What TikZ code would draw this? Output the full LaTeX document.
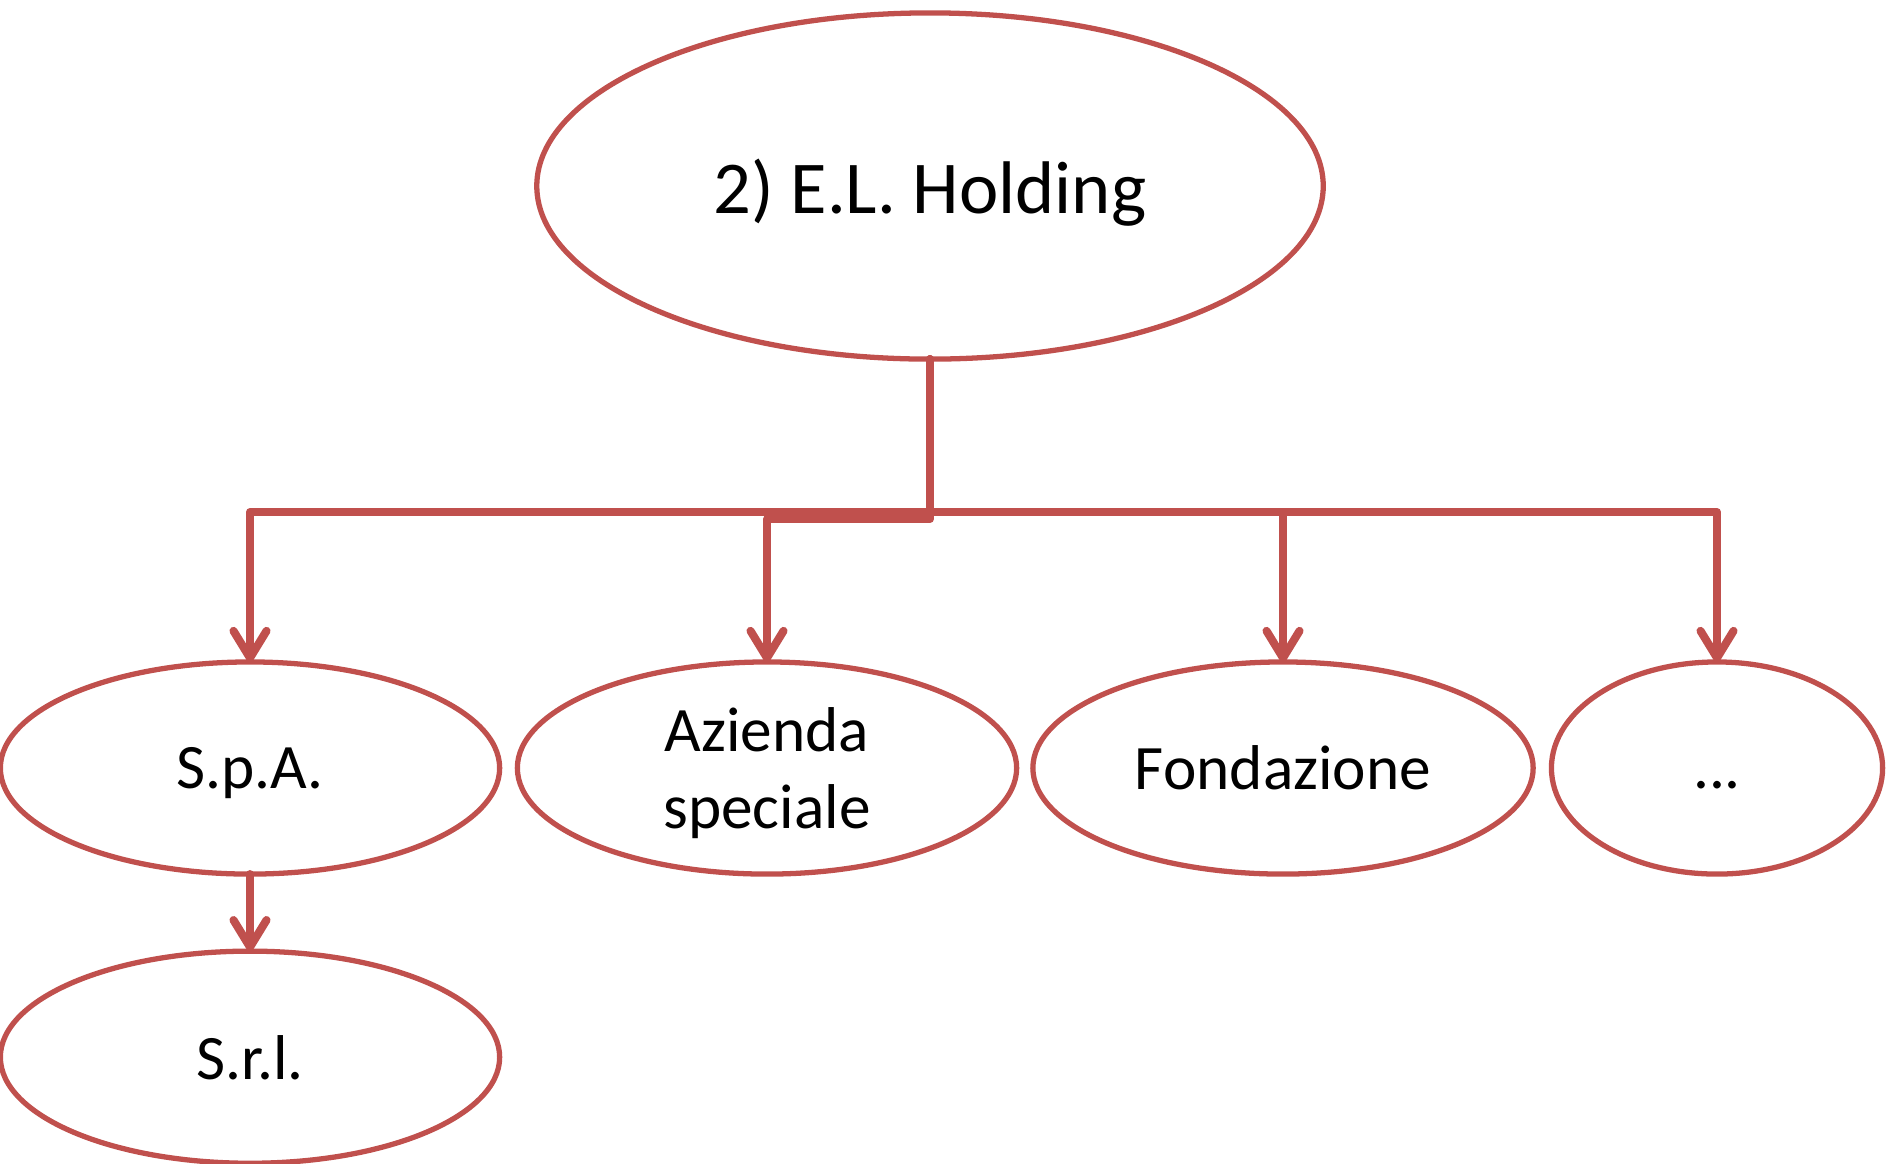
\documentclass[tikz,border=0pt]{standalone}
\usepackage{fontspec}
\setmainfont{Carlito}
\usepackage{tikz}
\usetikzlibrary{arrows.meta,positioning,shapes.geometric}
\definecolor{accent}{HTML}{C0504D}

\begin{document}
\begin{tikzpicture}
[x=0.01cm, y=-0.01cm,
% STYLES
% The entity style is used for every ellipse of the chart
entity/.style={ellipse, draw=accent, line width=1.5pt, inner sep=0pt, outer sep=0pt, minimum width=4.99cm, minimum height=2.12cm, text depth=0pt, align=center, font=\fontsize{18}{22}\selectfont},
% The root style is used for the holding
root/.style={entity, minimum width=7.86cm, minimum height=3.46cm, font=\fontsize{21.2}{26}\selectfont},
% The link style is used for the connectors
link/.style={draw=accent, line width=2.3pt, line cap=round, line join=round, -{Straight Barb[length=2.7mm,width=3.3mm,round]}}]

\useasboundingbox (0,0) rectangle (1886,1163);

% Draw entities
\node [root] (holding) at (930,186) {2) E.L. Holding};
\node [entity] (spa) at (250,768) {S.p.A.};
\node [entity] (azienda) at (767,768) {Azienda\\speciale};
\node [entity, minimum width=5cm] (fondazione) at (1283,768) {Fondazione};
\node [entity, minimum width=3.31cm] (altro) at (1717,768) {\vphantom{S}...};
\node [entity, below=0.77cm of spa] (srl) {S.r.l.};

% bus coordinates
\coordinate (bus) at (930,512);
\coordinate (bus2) at (930,519);

% Draw the links between entities
\draw[link] (holding.south) |- (bus) -| (spa.north);
\draw[link] (holding.south) |- (bus2) -| (azienda.north);
\draw[link] (holding.south) |- (bus) -| (fondazione.north);
\draw[link] (holding.south) |- (bus) -| (altro.north);
\draw[link] (spa.south) -- (srl.north);

\end{tikzpicture}
\end{document}
